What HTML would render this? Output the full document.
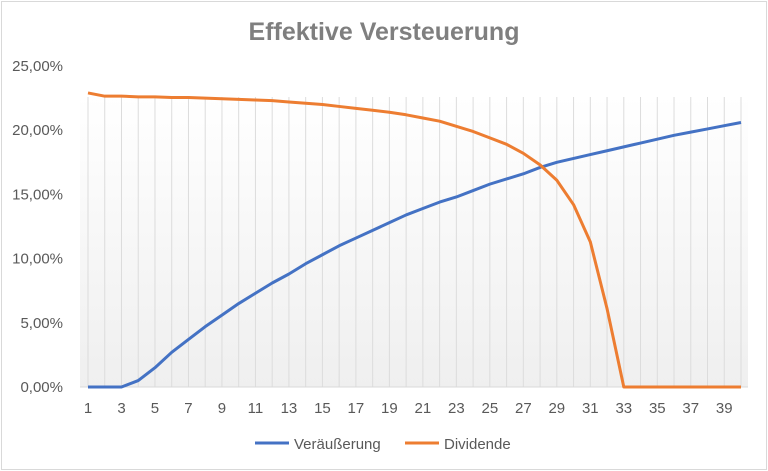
<!DOCTYPE html>
<html><head><meta charset="utf-8"><style>
body{margin:0;background:#fff;font-family:"Liberation Sans","DejaVu Sans",sans-serif}
#wrap{position:relative;width:768px;height:471px;overflow:hidden}
</style></head><body>
<div id="wrap">
<svg id="chart" width="768" height="471">
<defs><linearGradient id="bg" x1="0" y1="0" x2="0" y2="1"><stop offset="0" stop-color="#fff"/><stop offset="1" stop-color="#efefef"/></linearGradient></defs>
<rect x="1.5" y="1.5" width="765" height="468" fill="#fff" stroke="#d9d9d9"/>
<text x="384" y="40" text-anchor="middle" font-size="25" font-weight="bold" fill="#7f7f7f">Effektive Versteuerung</text>
<rect x="80" y="96" width="668" height="291" fill="url(#bg)"/>
<g id="grid"></g><g id="yt"></g><g id="xt"></g><g id="lines"></g>
<g>
<line x1="255" y1="443" x2="289" y2="443" stroke="#4472c4" stroke-width="3"/>
<text x="294" y="449" font-size="15" fill="#595959">Veräußerung</text>
<line x1="405" y1="443" x2="439" y2="443" stroke="#ed7d31" stroke-width="3"/>
<text x="444" y="449" font-size="15" fill="#595959">Dividende</text>
</g>
</svg></div>
<script>
const categories=Array.from({length:40},(_,i)=>i+1);
const veraeusserung=[0,0,0,0.5,1.5,2.7,3.7,4.7,5.6,6.5,7.3,8.1,8.8,9.6,10.3,11.0,11.6,12.2,12.8,13.4,13.9,14.4,14.8,15.3,15.8,16.2,16.6,17.1,17.5,17.8,18.1,18.4,18.7,19.0,19.3,19.6,19.85,20.1,20.35,20.6];
const dividende=[22.9,22.65,22.65,22.6,22.6,22.55,22.55,22.5,22.45,22.4,22.35,22.3,22.2,22.1,22.0,21.85,21.7,21.55,21.4,21.2,20.95,20.7,20.3,19.9,19.4,18.9,18.2,17.3,16.1,14.2,11.3,6.1,0,0,0,0,0,0,0,0];
const yTicks=[0,5,10,15,20,25];
const NS="http://www.w3.org/2000/svg";
const x=i=>88+i*(741-88)/39;
const y=v=>387-v*(387-66)/25;
function mk(t,a,p){const e=document.createElementNS(NS,t);for(const k in a)e.setAttribute(k,a[k]);p.appendChild(e);return e;}
const grid=document.getElementById('grid'),yt=document.getElementById('yt'),xt=document.getElementById('xt'),ln=document.getElementById('lines');
categories.forEach((c,i)=>{
 const g=mk('line',{x1:x(i),x2:x(i),y1:97,y2:387,stroke:'#dcdcdc','stroke-width':1},grid);
 
 
 if(i%2===0){const t=mk('text',{x:x(i),y:413,'text-anchor':'middle','font-size':15,fill:'#595959'},xt);t.textContent=c;
 
 }
});
const ax=mk('line',{x1:80,x2:748,y1:387,y2:387,stroke:'#d9d9d9'},grid);


yTicks.forEach(v=>{const t=mk('text',{x:63,y:y(v)+5,'text-anchor':'end','font-size':15,fill:'#595959'},yt);t.textContent=v.toFixed(2).replace('.',',')+'%';
 
 });
function line(d,col,name){const p=mk('polyline',{points:d.map((v,i)=>x(i)+','+y(v)).join(' '),fill:'none',stroke:col,'stroke-width':3,'stroke-linejoin':'round'},ln);
 
 }
line(veraeusserung,'#4472c4','series-veraeusserung');
line(dividende,'#ed7d31','series-dividende');
</script>
</body></html>
